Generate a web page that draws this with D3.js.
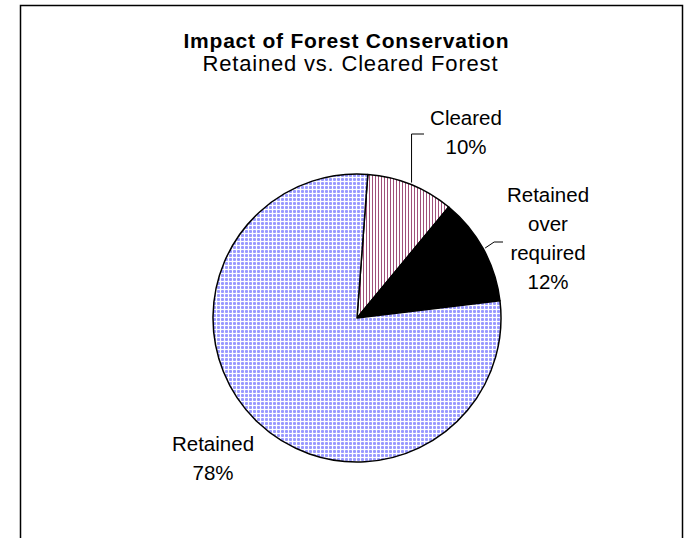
<!DOCTYPE html>
<html>
<head>
<meta charset="utf-8">
<script src="https://cdn.jsdelivr.net/npm/d3@7"></script>
<style>
  body { margin: 0; background: #fff; }
  text { font-family: "Liberation Sans", Arial, sans-serif; fill: #000; }
</style>
</head>
<body>
<svg id="chart" width="684" height="538"></svg>
<script>
// data
let categories = ["Cleared", "Retained over required", "Retained"];
let label_lines = [["Cleared"], ["Retained", "over", "required"], ["Retained"]];
let values = [9.8, 12.1, 78.1];

let title = "Impact of Forest Conservation";
let subtitle = "Retained vs. Cleared Forest";

function make_defs(svg) {
    let defs = svg.append("defs");

    // light blue dots
    let dots = defs.append("pattern")
        .attr("id", "dots")
        .attr("patternUnits", "userSpaceOnUse")
        .attr("width", 4).attr("height", 4);
    dots.append("rect").attr("width", 4).attr("height", 4).attr("fill", "#fff");
    dots.append("rect").attr("x", 0).attr("y", 0).attr("width", 3).attr("height", 3).attr("fill", "#b0b0ff");
    dots.append("rect").attr("x", 0).attr("y", 1).attr("width", 3).attr("height", 1).attr("fill", "#9999ff");
    dots.append("rect").attr("x", 1).attr("y", 0).attr("width", 1).attr("height", 3).attr("fill", "#9999ff");

    // maroon vertical stripes
    let stripes = defs.append("pattern")
        .attr("id", "stripes")
        .attr("patternUnits", "userSpaceOnUse")
        .attr("width", 3).attr("height", 3);
    stripes.append("rect").attr("width", 3).attr("height", 3).attr("fill", "#fff");
    stripes.append("rect").attr("x", 0).attr("width", 1).attr("height", 3).attr("fill", "#a0507a");
}

function visualize() {
    let svg = d3.select("#chart");
    make_defs(svg);

    // chart frame (bottom edge runs off the page)
    svg.append("rect")
        .attr("x", 20.5).attr("y", 5.5)
        .attr("width", 662).attr("height", 560)
        .attr("fill", "none")
        .attr("stroke", "#000")
        .attr("stroke-width", 1.5);

    svg.append("text")
        .attr("x", 346).attr("y", 48)
        .attr("text-anchor", "middle")
        .attr("textLength", 325)
        .attr("lengthAdjust", "spacing")
        .style("font-size", "21px")
        .style("font-weight", "bold")
        .text(title);

    svg.append("text")
        .attr("x", 350).attr("y", 71)
        .attr("text-anchor", "middle")
        .attr("textLength", 295)
        .attr("lengthAdjust", "spacing")
        .style("font-size", "22px")
        .text(subtitle);

    let cx = 357, cy = 318, r = 144;
    let start = 4.3 * Math.PI / 180;
    let fills = ["url(#stripes)", "#000", "url(#dots)"];

    let pie = d3.pie().sort(null).value(d => d)
        .startAngle(start).endAngle(start + 2 * Math.PI);
    let arcs = pie(values);
    let arc = d3.arc().innerRadius(0).outerRadius(r);

    let g = svg.append("g").attr("transform", `translate(${cx},${cy})`);
    g.selectAll("path")
        .data(arcs).enter()
        .append("path")
        .attr("d", arc)
        .attr("fill", (_, i) => fills[i])
        .attr("stroke", "#000")
        .attr("stroke-width", 1.5)
        .attr("stroke-linejoin", "round");

    let total = d3.sum(values);
    let pct = v => Math.round(v / total * 100) + "%";

    // label anchors (relative to page) and leader geometry
    let label_pos = [{ x: 466, y: 125 }, { x: 548, y: 202 }, { x: 213, y: 451 }];
    let leaders = [
        { bend: 0, y: 134, x2: 424 },
        { bend: 9, y: 242, x2: 503 },
        null
    ];
    let line_h = 29;

    arcs.forEach((a, i) => {
        let lines = label_lines[i].concat([pct(a.data)]);
        let t = svg.append("text")
            .attr("text-anchor", "middle")
            .style("font-size", "20.5px");
        lines.forEach((s, j) => {
            t.append("tspan")
                .attr("x", label_pos[i].x)
                .attr("y", label_pos[i].y + j * line_h)
                .text(s);
        });

        let ld = leaders[i];
        if (ld) {
            let mid = (a.startAngle + a.endAngle) / 2;
            let sx = cx + (r + 2) * Math.sin(mid);
            let sy = cy - (r + 2) * Math.cos(mid);
            let pts = [[sx, sy], [sx + ld.bend, ld.y], [ld.x2, ld.y]];
            svg.append("path")
                .attr("d", d3.line()(pts))
                .attr("fill", "none")
                .attr("stroke", "#000")
                .attr("stroke-width", 1);
        }
    });
}

visualize();
</script>
</body>
</html>
